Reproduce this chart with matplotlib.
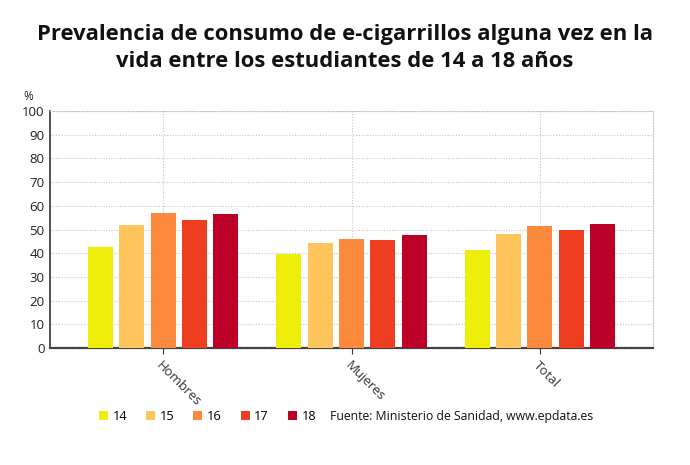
import numpy as np
import matplotlib.pyplot as plt
from matplotlib.patches import Patch

plt.rcParams['font.family'] = ['Open Sans', 'DejaVu Sans']

categories = ['Hombres', 'Mujeres', 'Total']
ages = ['14', '15', '16', '17', '18']
values = {
    '14': [42.8, 39.7, 41.2],
    '15': [51.8, 44.5, 48.1],
    '16': [56.9, 46.2, 51.3],
    '17': [54.1, 45.4, 49.6],
    '18': [56.4, 47.6, 52.4],
}
colors = ['#eeee0a', '#fdc55c', '#fb8a3c', '#ee3e22', '#bb0128']

fig = plt.figure(figsize=(6.9, 4.65), dpi=100)
ax = fig.add_axes([50/690, 1 - 348/465, 603/690, 237/465])

x = np.arange(len(categories))
step = 0.166
width = 0.133
for i, age in enumerate(ages):
    ax.bar(x + (i - 2) * step, values[age], width, color=colors[i], zorder=3)

ax.set_xlim(-0.6, 2.6)
ax.set_ylim(0, 100)
ax.set_yticks(np.arange(0, 101, 10))
ax.set_xticks(x)
ax.set_xticklabels(categories, rotation=-45, ha='left', va='top',
                   rotation_mode='anchor', color='#333333', fontsize=9.5)
ax.tick_params(axis='y', labelsize=9.5, length=0, pad=4, labelcolor='#222222')
ax.tick_params(axis='x', length=4, color='#333333', pad=4)

ax.grid(True, color='#c4c4c4', linestyle=(0, (1, 1.5)), linewidth=0.8, zorder=0)
for side in ['top', 'right']:
    ax.spines[side].set_color('#c4c4c4')
    ax.spines[side].set_linestyle((0, (1, 1.5)))
    ax.spines[side].set_linewidth(0.8)
ax.spines['left'].set_color('#333333')
ax.spines['left'].set_linewidth(1.2)
ax.spines['bottom'].set_color('#444444')
ax.spines['bottom'].set_linestyle((0, (2, 0.7)))
ax.spines['bottom'].set_linewidth(1.6)

fig.text(28/690, 1 - 97/465, '%', fontsize=8.5, color='#222222',
         ha='center', va='center')

fig.text(0.5, 1 - 48/465,
         'Prevalencia de consumo de e-cigarrillos alguna vez en la\n'
         'vida entre los estudiantes de 14 a 18 años',
         ha='center', va='center', fontsize=15.8, fontweight='bold',
         color='#111111', linespacing=1.38)

handles = [Patch(facecolor=c, edgecolor='none') for c in colors]
leg = fig.legend(handles, ages, loc='center left',
                 bbox_to_anchor=(99/690, 1 - 416/465), ncol=5, frameon=False,
                 fontsize=9.2, handlelength=0.7, handleheight=0.7,
                 handletextpad=0.35, columnspacing=1.5, borderaxespad=0,
                 borderpad=0)
fig.text(330/690, 1 - 416/465, 'Fuente: Ministerio de Sanidad, www.epdata.es',
         fontsize=8.8, color='#111111', ha='left', va='center')

fig.savefig('out.png', dpi=100)
